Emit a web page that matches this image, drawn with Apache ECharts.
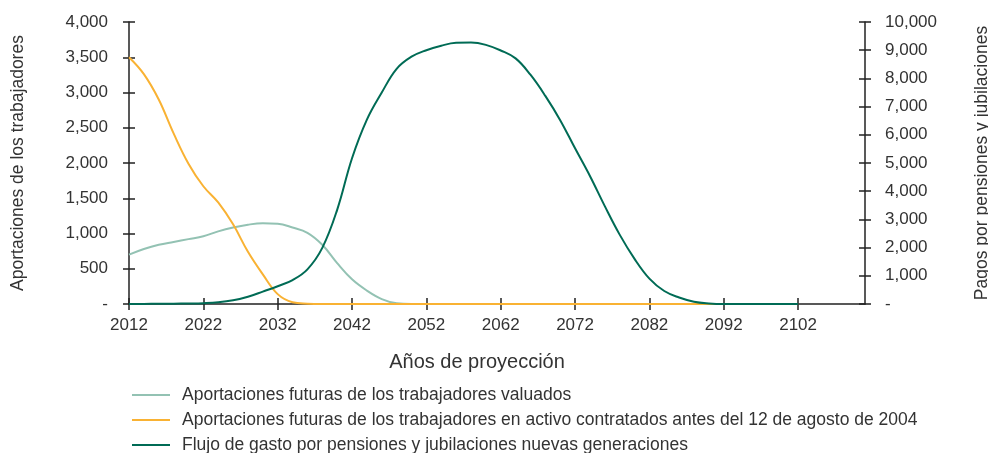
<!DOCTYPE html>
<html>
<head>
<meta charset="utf-8">
<script src="https://cdn.jsdelivr.net/npm/echarts@6/dist/echarts.min.js"></script>
<style>
  html, body { margin: 0; padding: 0; background: #fff; }
  #chart { width: 988px; height: 453px; }
</style>
</head>
<body>
<div id="chart"></div>
<script>
// years on the x axis (2012 .. 2111)
const years = [];
for (let y = 2012; y <= 2111; y++) years.push(String(y));

// sampled every 2 years, 2012 .. 2102
const sampleYears = [
  2012, 2014, 2016, 2018, 2020, 2022, 2024, 2026, 2028, 2030,
  2032, 2034, 2036, 2038, 2040, 2042, 2044, 2046, 2048, 2050,
  2052, 2054, 2056, 2058, 2060, 2062, 2064, 2066, 2068, 2070,
  2072, 2074, 2076, 2078, 2080, 2082, 2084, 2086, 2088, 2090,
  2092, 2094, 2096, 2098, 2100, 2102,
];

// left axis
const valuados = [
  700, 780, 840, 880, 920, 960, 1030, 1085, 1125, 1145,
  1138, 1085, 1010, 840, 580, 350, 190, 70, 10, 0,
  0, 0, 0, 0, 0, 0, 0, 0, 0, 0,
  0, 0, 0, 0, 0, 0, 0, 0, 0, 0,
  0, 0, 0, 0, 0, 0,
];
const activo2004 = [
  3500, 3260, 2900, 2420, 1990, 1670, 1440, 1130, 740, 420,
  140, 25, 5, 0, 0, 0, 0, 0, 0, 0,
  0, 0, 0, 0, 0, 0, 0, 0, 0, 0,
  0, 0, 0, 0, 0, 0, 0, 0, 0, 0,
  0, 0, 0, 0, 0, 0,
];
// right axis
const nuevasGen = [
  0, 3, 7, 12, 18, 30, 60, 130, 260, 440,
  630, 850, 1230, 1990, 3340, 5170, 6540, 7500, 8340, 8770,
  9000, 9160, 9260, 9270, 9190, 8990, 8710, 8130, 7380, 6520,
  5520, 4540, 3470, 2460, 1600, 900, 460, 230, 80, 20,
  0, 0, 0, 0, 0, 0,
];

const seriesNames = [
  "Aportaciones futuras de los trabajadores valuados",
  "Aportaciones futuras de los trabajadores en activo contratados antes del 12 de agosto de 2004",
  "Flujo de gasto por pensiones y jubilaciones nuevas generaciones",
];
const colors = ["#93c2b3", "#f9b233", "#006b55"];

const font = "Liberation Sans";
const textColor = "#333";

function pairs(vals) {
  return sampleYears.map((y, i) => [String(y), vals[i]]);
}
function fmt(v) {
  return v === 0 ? "-" : v.toLocaleString("en-US");
}

const chart = echarts.init(document.getElementById("chart"));

const axisLine = { show: true, lineStyle: { color: "#222", width: 1.5 } };
const tickStyle = { color: "#222", width: 1.5 };

chart.setOption({
  animation: false,
  textStyle: { fontFamily: font },
  title: {
    text: "Años de proyección",
    left: 477,
    top: 352,
    padding: 0,
    textAlign: "center",
    textStyle: { fontFamily: font, fontSize: 20, fontWeight: "normal", color: textColor },
  },
  legend: {
    orient: "vertical",
    left: 132,
    top: 386,
    padding: 0,
    height: 80,
    icon: "rect",
    itemWidth: 38,
    itemHeight: 2,
    itemGap: 7,
    textStyle: { fontFamily: font, fontSize: 17.5, color: textColor, padding: [0, 0, 0, 7] },
    data: seriesNames,
  },
  grid: { left: 129, right: 123, top: 22, bottom: 149, outerBoundsMode: "none" },
  xAxis: [
    {
      type: "category",
      data: years,
      boundaryGap: false,
      axisLine: axisLine,
      axisTick: { show: true, interval: 9, length: 6, lineStyle: tickStyle },
      axisLabel: { interval: 9, margin: 13, fontSize: 17, color: textColor, fontFamily: font },
      splitLine: { show: false },
    },
    {
      // inner half of the crossing ticks
      type: "category",
      data: years,
      position: "bottom",
      boundaryGap: false,
      axisLine: { show: false },
      axisTick: { show: true, inside: true, interval: 9, length: 6, lineStyle: tickStyle },
      axisLabel: { show: false },
    },
  ],
  yAxis: [
    {
      type: "value",
      min: 0,
      max: 4000,
      interval: 500,
      name: "Aportaciones de los trabajadores",
      nameLocation: "middle",
      nameGap: 102,
      nameTextStyle: { fontFamily: font, fontSize: 17.5, color: textColor },
      axisLine: axisLine,
      axisTick: { show: true, length: 6, lineStyle: tickStyle },
      axisLabel: { margin: 21, fontSize: 17, color: textColor, fontFamily: font, formatter: fmt },
      splitLine: { show: false },
    },
    {
      type: "value",
      position: "right",
      min: 0,
      max: 10000,
      interval: 1000,
      name: "Pagos por pensiones y jubilaciones",
      nameLocation: "middle",
      nameGap: 108,
      nameTextStyle: { fontFamily: font, fontSize: 17.5, color: textColor },
      axisLine: axisLine,
      axisTick: { show: true, length: 6, lineStyle: tickStyle },
      axisLabel: { margin: 20, fontSize: 17, color: textColor, fontFamily: font, formatter: fmt },
      splitLine: { show: false },
    },
    {
      type: "value",
      position: "left",
      min: 0,
      max: 4000,
      interval: 500,
      axisLine: { show: false },
      axisTick: { show: true, inside: true, length: 6, lineStyle: tickStyle },
      axisLabel: { show: false },
      splitLine: { show: false },
    },
    {
      type: "value",
      position: "right",
      min: 0,
      max: 10000,
      interval: 1000,
      axisLine: { show: false },
      axisTick: { show: true, inside: true, length: 6, lineStyle: tickStyle },
      axisLabel: { show: false },
      splitLine: { show: false },
    },
  ],
  series: [
    {
      name: seriesNames[0],
      type: "line",
      yAxisIndex: 0,
      smooth: 0.4,
      symbol: "none",
      lineStyle: { width: 2, color: colors[0] },
      itemStyle: { color: colors[0] },
      data: pairs(valuados),
    },
    {
      name: seriesNames[1],
      type: "line",
      yAxisIndex: 0,
      smooth: 0.4,
      symbol: "none",
      lineStyle: { width: 2, color: colors[1] },
      itemStyle: { color: colors[1] },
      data: pairs(activo2004),
    },
    {
      name: seriesNames[2],
      type: "line",
      yAxisIndex: 1,
      smooth: 0.4,
      symbol: "none",
      lineStyle: { width: 2, color: colors[2] },
      itemStyle: { color: colors[2] },
      data: pairs(nuevasGen),
    },
  ],
});
</script>
</body>
</html>
